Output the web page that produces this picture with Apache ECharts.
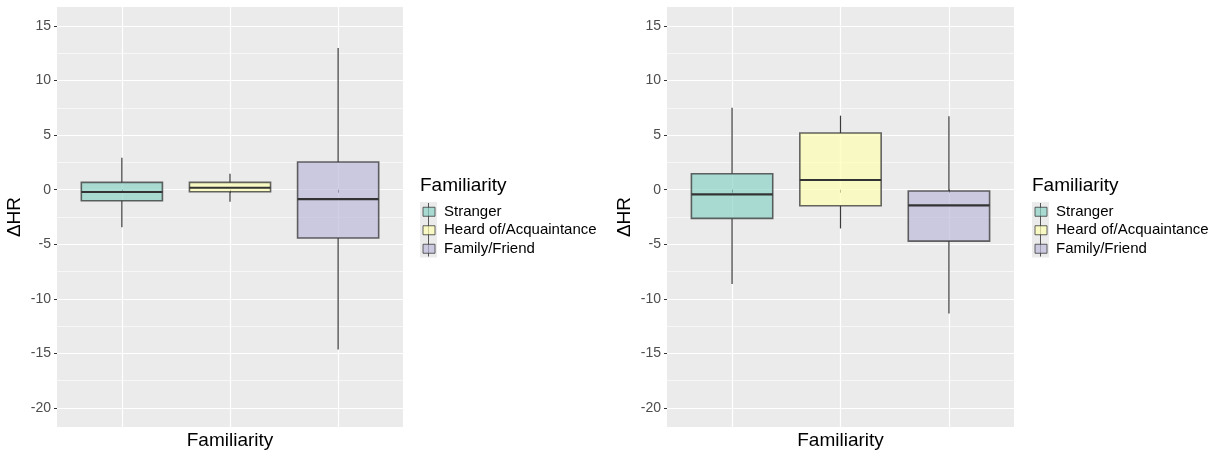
<!DOCTYPE html>
<html>
<head>
<meta charset="utf-8">
<script src="https://cdn.jsdelivr.net/npm/echarts@6/dist/echarts.min.js"></script>
<style>
  html, body { margin: 0; padding: 0; background: #fff; }
  #chart { width: 1214px; height: 452px; }
</style>
</head>
<body>
<div id="chart"></div>
<script>
// groups and their fill colours (Set3, alpha 0.7)
const categories = ['Stranger', 'Heard of/Acquaintance', 'Family/Friend'];
const fills = ['rgba(141,211,199,0.7)', 'rgba(255,255,179,0.7)', 'rgba(190,186,218,0.7)'];

// box stats per group: [min, Q1, median, Q3, max]
const leftStats = [
  [-3.43, -1.01, -0.21, 0.67, 2.94],
  [-1.10, -0.18, 0.18, 0.67, 1.47],
  [-14.65, -4.43, -0.86, 2.54, 13.0]
];
const rightStats = [
  [-8.65, -2.63, -0.43, 1.47, 7.52],
  [-3.55, -1.47, 0.89, 5.20, 6.79],
  [-11.35, -4.71, -1.44, -0.12, 6.73]
];

const yTicks = [-20, -15, -10, -5, 0, 5, 10, 15];
const yMinor = [-17.5, -12.5, -7.5, -2.5, 2.5, 7.5, 12.5];
const xTicks = [1, 2, 3];

const FONT = '"Liberation Sans", Arial, sans-serif';
const BOX_WIDTH = 0.75;

const chart = echarts.init(document.getElementById('chart'));

const panels = [
  { left: 57, width: 346, legendX: 420, stats: leftStats },
  { left: 667, width: 347, legendX: 1032, stats: rightStats }
];

function renderBox(params, api) {
  const x = api.value(0);
  const lo = api.coord([x, api.value(1)]);
  const q1 = api.coord([x, api.value(2)]);
  const med = api.coord([x, api.value(3)]);
  const q3 = api.coord([x, api.value(4)]);
  const hi = api.coord([x, api.value(5)]);
  const w = api.size([BOX_WIDTH, 0])[0];
  const cx = med[0];
  const line = '#3a3a3a';
  return {
    type: 'group',
    children: [
      { type: 'line', shape: { x1: cx, y1: hi[1], x2: cx, y2: q3[1] }, style: { stroke: line, lineWidth: 1.2 } },
      { type: 'line', shape: { x1: cx, y1: q1[1], x2: cx, y2: lo[1] }, style: { stroke: line, lineWidth: 1.2 } },
      { type: 'rect', shape: { x: cx - w / 2, y: q3[1], width: w, height: q1[1] - q3[1] },
        style: { fill: api.visual('color'), stroke: 'rgba(51,51,51,0.75)', lineWidth: 1.6 } },
      { type: 'line', shape: { x1: cx - w / 2, y1: med[1], x2: cx + w / 2, y2: med[1] }, style: { stroke: '#333', lineWidth: 2.2 } }
    ]
  };
}

const grid = [], xAxis = [], yAxis = [], series = [], legend = [], title = [], graphic = [];

panels.forEach((p, pi) => {
  grid.push({
    left: p.left, width: p.width, top: 7, height: 420,
    outerBoundsMode: 'none', containLabel: false,
    show: true, backgroundColor: '#EBEBEB', borderWidth: 0
  });
  xAxis.push({
    type: 'value', gridIndex: pi, min: 0.4, max: 3.6,
    name: 'Familiarity', nameLocation: 'middle', nameGap: 4,
    nameTextStyle: { fontSize: 19, color: '#000', fontFamily: FONT, verticalAlign: 'top' },
    axisLine: { show: false },
    axisTick: { show: true, length: 3, customValues: xTicks, lineStyle: { color: '#333', width: 1 } },
    axisLabel: { show: false },
    splitLine: { show: true, lineStyle: { color: '#fff', width: 1.2 } }
  });
  // major y axis
  yAxis.push({
    type: 'value', gridIndex: pi, min: -21.75, max: 16.75,
    name: 'ΔHR', nameLocation: 'middle', nameGap: 33, nameRotate: 90,
    nameTextStyle: { fontSize: 19, color: '#000', fontFamily: FONT },
    axisLine: { show: false },
    axisTick: { show: true, length: 3, customValues: yTicks, lineStyle: { color: '#333', width: 1 } },
    axisLabel: { customValues: yTicks, margin: 6, fontSize: 14, color: '#4D4D4D', fontFamily: FONT },
    splitLine: { show: true, lineStyle: { color: '#fff', width: 1.2 } }
  });
  // minor grid lines
  yAxis.push({
    type: 'value', gridIndex: pi, min: -21.75, max: 16.75, position: 'left',
    axisLine: { show: false },
    axisTick: { show: false, customValues: yMinor },
    axisLabel: { show: false },
    splitLine: { show: true, lineStyle: { color: '#fff', width: 0.6 } }
  });

  categories.forEach((c, i) => {
    series.push({
      type: 'custom', name: c,
      xAxisIndex: pi, yAxisIndex: pi * 2,
      itemStyle: { color: fills[i] },
      encode: { x: 0, y: [1, 2, 3, 4, 5] },
      data: [[i + 1].concat(p.stats[i])],
      renderItem: renderBox,
      z: 3
    });
  });

  title.push({
    text: 'Familiarity', left: p.legendX, top: 176, padding: 0,
    textStyle: { fontSize: 19, fontWeight: 'normal', color: '#000', fontFamily: FONT }
  });

  // legend key backgrounds and whiskers
  graphic.push({
    type: 'rect', left: p.legendX, top: 202, z: 0,
    shape: { width: 17, height: 55.5 }, style: { fill: '#EBEBEB' }
  });
  graphic.push({
    type: 'line', z: 1,
    shape: { x1: p.legendX + 8.5, y1: 203, x2: p.legendX + 8.5, y2: 256.5 },
    style: { stroke: '#555', lineWidth: 1 }
  });

  legend.push({
    orient: 'vertical', left: p.legendX + 2.5, top: 202.5, padding: 0,
    itemWidth: 12, itemHeight: 9, itemGap: 0, selectedMode: false, z: 5,
    textStyle: { fontSize: 15, color: '#000', fontFamily: FONT, lineHeight: 18.5, padding: [0, 0, 0, 4] },
    data: categories.map((c, i) => ({
      name: c, icon: 'rect',
      itemStyle: { color: fills[i], borderColor: 'rgba(51,51,51,0.75)', borderWidth: 1 }
    }))
  });
});

chart.setOption({
  animation: false,
  title: title,
  grid: grid,
  xAxis: xAxis,
  yAxis: yAxis,
  legend: legend,
  graphic: graphic,
  series: series
});
</script>
</body>
</html>
